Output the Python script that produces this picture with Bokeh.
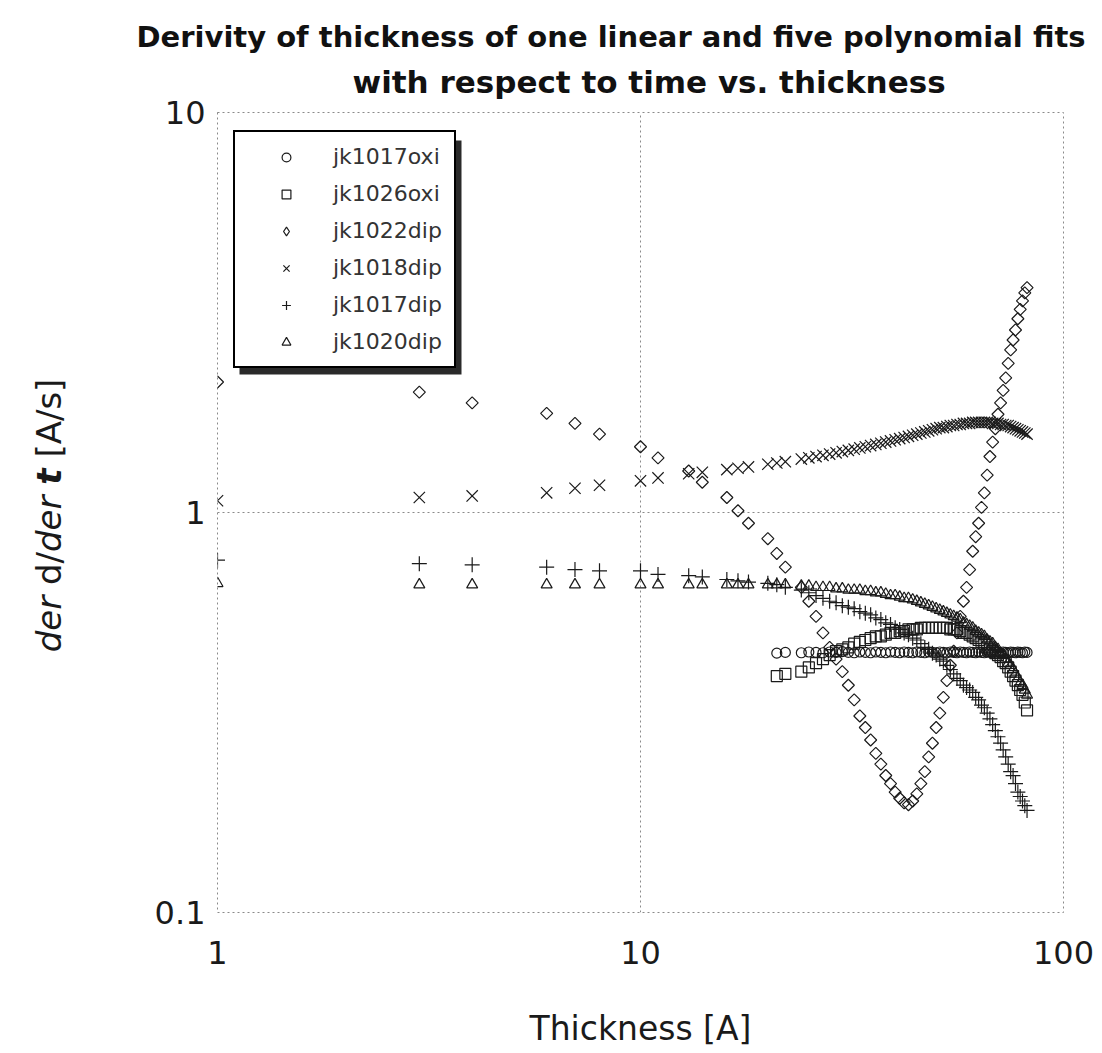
import math
from bokeh.plotting import figure
from bokeh.layouts import row
from bokeh.models import (FixedTicker, CustomJSTickFormatter, Label, BoxAnnotation, Range1d,
                          Title, Legend, LegendItem)
from bokeh.embed import file_html
from bokeh.resources import INLINE

# ---------------- data ----------------
X_EARLY = [1, 3, 4, 6, 7, 8, 10, 11, 13, 14, 16, 17, 18, 20]
X_DENSE = [21, 22, 24, 25, 26, 27, 28, 29, 30, 31,
           32, 33, 34, 35, 36, 37, 38, 39, 40, 41,
           42, 43, 44, 45, 46, 47, 48, 49, 50, 51,
           52, 53, 54, 55, 56, 57, 58, 59, 60, 61,
           62, 63, 64, 65, 66, 67, 68, 69, 70, 71,
           72, 73, 74, 75, 76, 77, 78, 79, 80, 81,
           82]
X_ALL = X_EARLY + X_DENSE

# jk1017oxi (circles) - only from 21 on
jk1017oxi = [0.445, 0.447, 0.446, 0.448, 0.447, 0.446, 0.448, 0.447, 0.449, 0.447,
             0.446, 0.448, 0.447, 0.446, 0.448, 0.447, 0.446, 0.448, 0.447, 0.446,
             0.448, 0.447, 0.446, 0.448, 0.447, 0.446, 0.448, 0.447, 0.446, 0.448,
             0.447, 0.446, 0.448, 0.447, 0.446, 0.448, 0.447, 0.446, 0.448, 0.447,
             0.446, 0.448, 0.447, 0.446, 0.448, 0.447, 0.446, 0.448, 0.447, 0.446,
             0.448, 0.447, 0.446, 0.448, 0.447, 0.446, 0.448, 0.447, 0.446, 0.448,
             0.447]

# jk1026oxi (squares) - only from 21 on
jk1026oxi = [0.39, 0.395, 0.40, 0.41, 0.42, 0.43, 0.44, 0.45, 0.455, 0.46,
             0.47, 0.475, 0.48, 0.485, 0.49, 0.49, 0.495, 0.50, 0.50, 0.505,
             0.505, 0.51, 0.51, 0.51, 0.515, 0.515, 0.515, 0.515, 0.515, 0.515,
             0.515, 0.515, 0.51, 0.51, 0.51, 0.505, 0.50, 0.50, 0.495, 0.49,
             0.485, 0.48, 0.475, 0.47, 0.46, 0.455, 0.45, 0.445, 0.44, 0.435,
             0.425, 0.42, 0.41, 0.40, 0.39, 0.38, 0.37, 0.36, 0.35, 0.335,
             0.32]

# jk1022dip (diamonds)
jk1022dip = [2.12, 2.00, 1.88, 1.77, 1.67, 1.57, 1.46, 1.37, 1.27, 1.19, 1.09, 1.01, 0.94, 0.86,
             0.79, 0.73, 0.65, 0.60, 0.55, 0.50, 0.46, 0.43, 0.40, 0.37,
             0.34, 0.31, 0.29, 0.27, 0.25, 0.235, 0.22, 0.21, 0.20, 0.193,
             0.188, 0.186, 0.19, 0.198, 0.21, 0.225, 0.245, 0.265, 0.29, 0.315,
             0.345, 0.38, 0.415, 0.45, 0.50, 0.55, 0.60, 0.65, 0.72, 0.80,
             0.87, 0.94, 1.03, 1.12, 1.24, 1.38, 1.50, 1.62, 1.76, 1.88,
             2.02, 2.17, 2.36, 2.55, 2.70, 2.86, 3.05, 3.22, 3.38, 3.54,
             3.65]

# jk1018dip (x)
jk1018dip = [1.07, 1.09, 1.10, 1.12, 1.15, 1.17, 1.20, 1.22, 1.25, 1.26, 1.28, 1.29, 1.30, 1.32,
             1.33, 1.34, 1.36, 1.37, 1.38, 1.39, 1.40, 1.41, 1.42, 1.43,
             1.44, 1.45, 1.46, 1.47, 1.48, 1.49, 1.50, 1.51, 1.52, 1.53,
             1.54, 1.55, 1.56, 1.57, 1.58, 1.59, 1.60, 1.61, 1.62, 1.63,
             1.63, 1.64, 1.65, 1.65, 1.66, 1.66, 1.67, 1.67, 1.67, 1.68,
             1.68, 1.68, 1.68, 1.68, 1.68, 1.68, 1.67, 1.67, 1.67, 1.66,
             1.66, 1.65, 1.65, 1.64, 1.63, 1.62, 1.61, 1.60, 1.59, 1.58,
             1.57]

# jk1017dip (+)
jk1017dip = [0.76, 0.745, 0.74, 0.73, 0.72, 0.715, 0.715, 0.70, 0.695, 0.69, 0.68, 0.675, 0.67, 0.665,
             0.66, 0.65, 0.64, 0.63, 0.62, 0.61, 0.60, 0.595, 0.585, 0.58,
             0.575, 0.565, 0.56, 0.555, 0.545, 0.54, 0.53, 0.525, 0.515, 0.51,
             0.50, 0.495, 0.485, 0.48, 0.47, 0.46, 0.455, 0.445, 0.44, 0.43,
             0.425, 0.415, 0.405, 0.395, 0.385, 0.38, 0.37, 0.365, 0.36, 0.355,
             0.345, 0.34, 0.33, 0.325, 0.315, 0.305, 0.295, 0.285, 0.275, 0.265,
             0.255, 0.245, 0.235, 0.225, 0.22, 0.21, 0.20, 0.195, 0.19, 0.185,
             0.18]

# jk1020dip (triangles)
jk1020dip = [0.665, 0.66, 0.66, 0.66, 0.66, 0.66, 0.66, 0.66, 0.66, 0.66, 0.66, 0.66, 0.66, 0.66,
             0.66, 0.66, 0.655, 0.655, 0.65, 0.65, 0.65, 0.645, 0.645, 0.64,
             0.64, 0.64, 0.635, 0.635, 0.63, 0.63, 0.625, 0.62, 0.62, 0.615,
             0.61, 0.61, 0.605, 0.60, 0.595, 0.59, 0.585, 0.58, 0.575, 0.57,
             0.565, 0.56, 0.555, 0.55, 0.545, 0.54, 0.53, 0.525, 0.52, 0.515,
             0.505, 0.50, 0.495, 0.49, 0.48, 0.475, 0.47, 0.46, 0.455, 0.445,
             0.44, 0.43, 0.42, 0.415, 0.405, 0.395, 0.385, 0.375, 0.37, 0.36,
             0.35]

X_TICKS = [1, 10, 100]
Y_TICKS = [0.1, 1, 10]

TITLE_1 = "Derivity of thickness of one linear and five polynomial fits"
TITLE_2 = "with respect to time vs. thickness"
X_LABEL = "Thickness [A]"
# y label pieces: (text, font style)
Y_LABEL_PARTS = [("der", "italic"), ("d/", "normal"), ("der", "italic"),
                 ("t", "bold italic"), ("[A/s]", "normal")]

FONT = "DejaVu Sans"
INK = "#1a1a1a"

# ---------------- left strip holding the rotated y-axis title ----------------
LEFT_W = 100
H = 1053
# the strip's frame is aligned with the main frame (canvas y 112..912);
# its y coordinate counts pixels up from the bottom of the page
lf = figure(width=LEFT_W, height=H, x_range=Range1d(0, LEFT_W), y_range=Range1d(141, 941),
            output_backend="svg", toolbar_location=None, min_border=0,
            x_axis_location=None, y_axis_location=None, title=None)
lf.outline_line_color = None
lf.grid.visible = False
lf.background_fill_color = "white"
lf.border_fill_color = "white"

# piece starts along the vertical (font 34px DejaVu Sans)
y_starts = [401.2, 468.5, 501.5, 568.8, 595.9]
for (txt, style), yy in zip(Y_LABEL_PARTS, y_starts):
    lf.add_layout(Label(x=48, y=yy, text=txt, angle=math.pi / 2,
                        text_align="left", text_baseline="middle",
                        text_font=FONT, text_font_size="34px", text_font_style=style,
                        text_color=INK))

# ---------------- main figure ----------------
p = figure(width=1102 - LEFT_W, height=H, x_axis_type="log", y_axis_type="log",
           x_range=Range1d(1, 100), y_range=Range1d(0.1, 10),
           output_backend="svg", toolbar_location=None, title=None,
           min_border_left=217 - LEFT_W, min_border_right=39,
           min_border_top=112, min_border_bottom=141)
p.background_fill_color = "white"
p.border_fill_color = "white"
p.outline_line_color = "#8a8a8a"
p.outline_line_dash = "2 3"
p.outline_line_width = 1

t2 = Title(text=TITLE_2, align="left", offset=135, standoff=26,
           text_font=FONT, text_font_size="31px", text_font_style="bold", text_color="#111111")
t1 = Title(text=TITLE_1, align="left", offset=-81, standoff=-10,
           text_font=FONT, text_font_size="29px", text_font_style="bold", text_color="#111111")
p.add_layout(t2, "above")
p.add_layout(t1, "above")

for ax in (p.xaxis[0], p.yaxis[0]):
    ax.axis_line_color = None
    ax.major_tick_line_color = None
    ax.minor_tick_line_color = None
    ax.major_label_text_font = FONT
    ax.major_label_text_font_size = "32px"
    ax.major_label_text_color = INK
    ax.formatter = CustomJSTickFormatter(code="return tick.toString();")

p.xaxis[0].ticker = FixedTicker(ticks=X_TICKS)
p.yaxis[0].ticker = FixedTicker(ticks=Y_TICKS)
p.xaxis[0].major_label_standoff = 22
p.yaxis[0].major_label_standoff = 6
p.xaxis[0].axis_label = X_LABEL
p.xaxis[0].axis_label_text_font = FONT
p.xaxis[0].axis_label_text_font_size = "33px"
p.xaxis[0].axis_label_text_font_style = "normal"
p.xaxis[0].axis_label_text_color = INK
p.xaxis[0].axis_label_standoff = 42

for g in (p.xgrid[0], p.ygrid[0]):
    g.grid_line_color = "#8a8a8a"
    g.grid_line_dash = "2 3"
    g.grid_line_width = 1

# legend drop shadow
p.add_layout(BoxAnnotation(left=22, right=244, top=772, bottom=538,
                           left_units="screen", right_units="screen",
                           top_units="screen", bottom_units="screen",
                           fill_color="#2a2a2a", fill_alpha=1.0, line_color=None))

common = dict(fill_color=None, line_color=INK, line_width=1.2)
r_circ = p.scatter(X_DENSE, jk1017oxi, marker="circle", size=10, **common)
r_sq = p.scatter(X_DENSE, jk1026oxi, marker="square", size=11, **common)
r_dia = p.scatter(X_ALL, jk1022dip, marker="square", angle=math.pi / 4, size=8.5, **common)
# same series drawn as a plain diamond, hidden: only used for the legend swatch
r_dia_key = p.scatter(X_ALL, jk1022dip, marker="diamond", size=14, visible=False, **common)
r_x = p.scatter(X_ALL, jk1018dip, marker="x", size=16, **common)
r_plus = p.scatter(X_ALL, jk1017dip, marker="cross", size=15, **common)
r_tri = p.scatter(X_ALL, jk1020dip, marker="triangle", size=11, **common)

lg = Legend(items=[LegendItem(label="jk1017oxi", renderers=[r_circ]),
                   LegendItem(label="jk1026oxi", renderers=[r_sq]),
                   LegendItem(label="jk1022dip", renderers=[r_dia_key]),
                   LegendItem(label="jk1018dip", renderers=[r_x]),
                   LegendItem(label="jk1017dip", renderers=[r_plus]),
                   LegendItem(label="jk1020dip", renderers=[r_tri])],
            location=(16, 544), margin=0, padding=12, spacing=12,
            glyph_width=78, glyph_height=22, label_height=22, label_standoff=8,
            label_text_font=FONT, label_text_font_size="22px", label_text_color="#333333",
            border_line_color="black", border_line_alpha=1.0, border_line_width=2,
            background_fill_color="white", background_fill_alpha=1.0,
            click_policy="none")
p.add_layout(lg)

layout = row(lf, p, spacing=0)
open("out.html", "w").write(file_html(layout, INLINE))
